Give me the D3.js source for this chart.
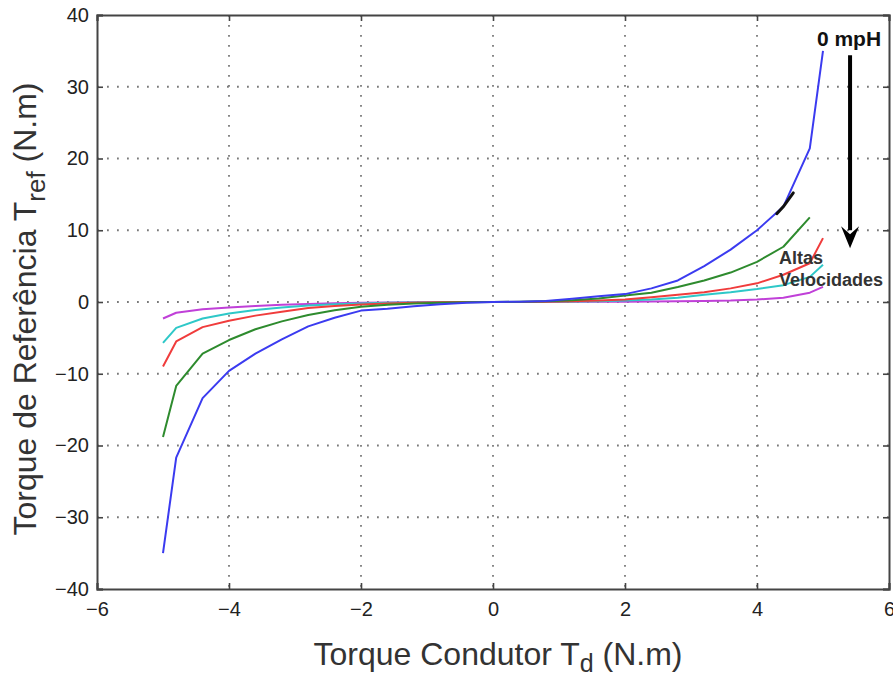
<!DOCTYPE html>
<html>
<head>
<meta charset="utf-8">
<script src="https://cdn.jsdelivr.net/npm/d3@7"></script>
<style>
  html, body { margin: 0; padding: 0; background: #fff; }
  svg { display: block; }
  text { font-family: "Liberation Sans", Arial, Helvetica, sans-serif; }
</style>
</head>
<body>
<svg id="chart" width="893" height="678"></svg>
<script>
// ---- data ----
const xValues = [-5, -4.8, -4.4, -4.0, -3.6, -3.2, -2.8, -2.4, -2.0, -1.6, -1.2, -0.8, -0.4, 0,
                 0.4, 0.8, 1.2, 1.6, 2.0, 2.4, 2.8, 3.2, 3.6, 4.0, 4.4, 4.8, 5.0];
const blueValues = [-35, -21.7, -13.4, -9.6, -7.2, -5.2, -3.4, -2.2, -1.2, -0.95, -0.6, -0.3, -0.1, 0,
                    0.05, 0.15, 0.45, 0.8, 1.1, 1.9, 3.0, 5.0, 7.3, 10.0, 13.3, 21.4, 35];
const greenValues = [-18.8, -11.7, -7.2, -5.3, -3.8, -2.7, -1.8, -1.15, -0.65, -0.4, -0.2, -0.1, -0.03, 0,
                     0.03, 0.1, 0.25, 0.5, 0.9, 1.3, 2.1, 3.0, 4.1, 5.6, 7.7, 11.8, null];
const redValues = [-9.0, -5.5, -3.5, -2.6, -1.9, -1.35, -0.85, -0.55, -0.35, -0.2, -0.1, -0.05, -0.01, 0,
                   0.01, 0.05, 0.1, 0.2, 0.35, 0.65, 1.0, 1.35, 1.9, 2.6, 3.8, 5.4, 8.9];
const cyanValues = [-5.7, -3.6, -2.3, -1.6, -1.1, -0.75, -0.5, -0.32, -0.2, -0.12, -0.06, -0.02, 0, 0,
                    0, 0.02, 0.06, 0.12, 0.2, 0.35, 0.6, 1.0, 1.35, 1.8, 2.35, 3.5, 5.2];
const magentaValues = [-2.3, -1.5, -1.0, -0.75, -0.55, -0.4, -0.28, -0.18, -0.1, -0.06, -0.03, -0.01, 0, 0,
                       0, 0.01, 0.02, 0.03, 0.05, 0.08, 0.12, 0.15, 0.2, 0.35, 0.6, 1.3, 2.1];
const seriesNames = ["0 mpH", "v2", "v3", "v4", "v5"];
const seriesColors = ["#3b3bf0", "#2e8b2e", "#f03c3c", "#2ec8c8", "#c040d8"];
// short black overlay on the blue curve
const blackSegX = [4.3, 4.4, 4.55];
const blackSegY = [12.3, 13.3, 15.2];
const xTicks = [-6, -4, -2, 0, 2, 4, 6];
const yTicks = [-40, -30, -20, -10, 0, 10, 20, 30, 40];
// annotation: arrow from low to high speed
const arrowX = 5.41;
const arrowY = [34.4, 7.5];

// ---- layout ----
const svg = d3.select("#chart");
const mLeft = 97, mRight = 889, mTop = 15, mBottom = 589;
const x = d3.scaleLinear().domain([-6, 6]).range([mLeft, mRight]);
const y = d3.scaleLinear().domain([-40, 40]).range([mBottom, mTop]);

// grid
const grid = svg.append("g");
grid.selectAll("line.gx").data(xTicks.filter(d => d > -6 && d < 6)).enter().append("line")
  .attr("x1", d => x(d)).attr("x2", d => x(d)).attr("y1", mTop).attr("y2", mBottom)
  .attr("stroke", "#7a7a7a").attr("stroke-width", 1.8).attr("stroke-dasharray", "1.8,8.2");
grid.selectAll("line.gy").data(yTicks.filter(d => d > -40 && d < 40)).enter().append("line")
  .attr("y1", d => y(d)).attr("y2", d => y(d)).attr("x1", mLeft).attr("x2", mRight)
  .attr("stroke", "#7a7a7a").attr("stroke-width", 1.8).attr("stroke-dasharray", "1.8,8.2");

// axes
const fmt = d => (d < 0 ? "\u2212" + Math.abs(d) : String(d));
const xAxisB = d3.axisBottom(x).tickValues(xTicks).tickSize(-6).tickPadding(13).tickFormat(fmt);
const xAxisT = d3.axisTop(x).tickValues(xTicks).tickSize(-6).tickFormat("");
const yAxisL = d3.axisLeft(y).tickValues(yTicks).tickSize(-6).tickPadding(8).tickFormat(fmt);
const yAxisR = d3.axisRight(y).tickValues(yTicks).tickSize(-6).tickFormat("");

function styleAxis(g) {
  g.select(".domain").attr("stroke", "#444").attr("stroke-width", 2);
  g.selectAll(".tick line").attr("stroke", "#444").attr("stroke-width", 1.6);
  g.selectAll(".tick text").attr("fill", "#222").style("font-size", "20px")
    .style("font-family", "'Liberation Sans', Arial, sans-serif");
}
svg.append("g").attr("transform", `translate(0,${mBottom})`).call(xAxisB).call(styleAxis);
svg.append("g").attr("transform", `translate(0,${mTop})`).call(xAxisT).call(styleAxis);
svg.append("g").attr("transform", `translate(${mLeft},0)`).call(yAxisL).call(styleAxis);
svg.append("g").attr("transform", `translate(${mRight},0)`).call(yAxisR).call(styleAxis);

// series
const allSeries = [blueValues, greenValues, redValues, cyanValues, magentaValues];
const line = d3.line()
  .defined(d => d[1] !== null)
  .x(d => x(d[0])).y(d => y(d[1]));
allSeries.map((vals, i) => ({ vals, i })).reverse().forEach(({ vals, i }) => {
  svg.append("path")
    .datum(xValues.map((xv, k) => [xv, vals[k]]))
    .attr("fill", "none")
    .attr("stroke", seriesColors[i])
    .attr("stroke-width", 2)
    .attr("stroke-linejoin", "round")
    .attr("d", line);
});
svg.append("path")
  .datum(blackSegX.map((xv, k) => [xv, blackSegY[k]]))
  .attr("fill", "none").attr("stroke", "#111").attr("stroke-width", 3)
  .attr("stroke-linecap", "round").attr("d", line);

// arrow
const ax = x(arrowX), ay0 = y(arrowY[0]), ay1 = y(arrowY[1]);
svg.append("line").attr("x1", ax).attr("x2", ax).attr("y1", ay0).attr("y2", ay1 - 18)
  .attr("stroke", "#000").attr("stroke-width", 4);
svg.append("path")
  .attr("d", `M${ax - 9},${ay1 - 22} L${ax},${ay1} L${ax + 9},${ay1 - 22} L${ax},${ay1 - 14} Z`)
  .attr("fill", "#000");

// annotation texts
svg.append("text").attr("x", 849).attr("y", 46).attr("text-anchor", "middle")
  .style("font-size", "21px").style("font-weight", "bold").attr("fill", "#111").text(seriesNames[0]);
svg.append("text").attr("x", 779).attr("y", 264)
  .style("font-size", "18px").style("font-weight", "bold").attr("fill", "#333").text("Altas");
svg.append("text").attr("x", 779).attr("y", 286)
  .style("font-size", "18px").style("font-weight", "bold").attr("fill", "#333").text("Velocidades");

// axis labels
const xl = svg.append("text").attr("x", 498).attr("y", 665).attr("text-anchor", "middle")
  .attr("fill", "#333").style("font-size", "32px");
xl.append("tspan").text("Torque Condutor T");
xl.append("tspan").attr("dy", 7).style("font-size", "25px").text("d");
xl.append("tspan").attr("dy", -7).text(" (N.m)");

const yl = svg.append("text").attr("transform", "translate(36,309) rotate(-90)")
  .attr("text-anchor", "middle").attr("fill", "#333").style("font-size", "32px");
yl.append("tspan").text("Torque de Referência T");
yl.append("tspan").attr("dy", 9).style("font-size", "26px").text("ref");
yl.append("tspan").attr("dy", -9).text(" (N.m)");
</script>
</body>
</html>
